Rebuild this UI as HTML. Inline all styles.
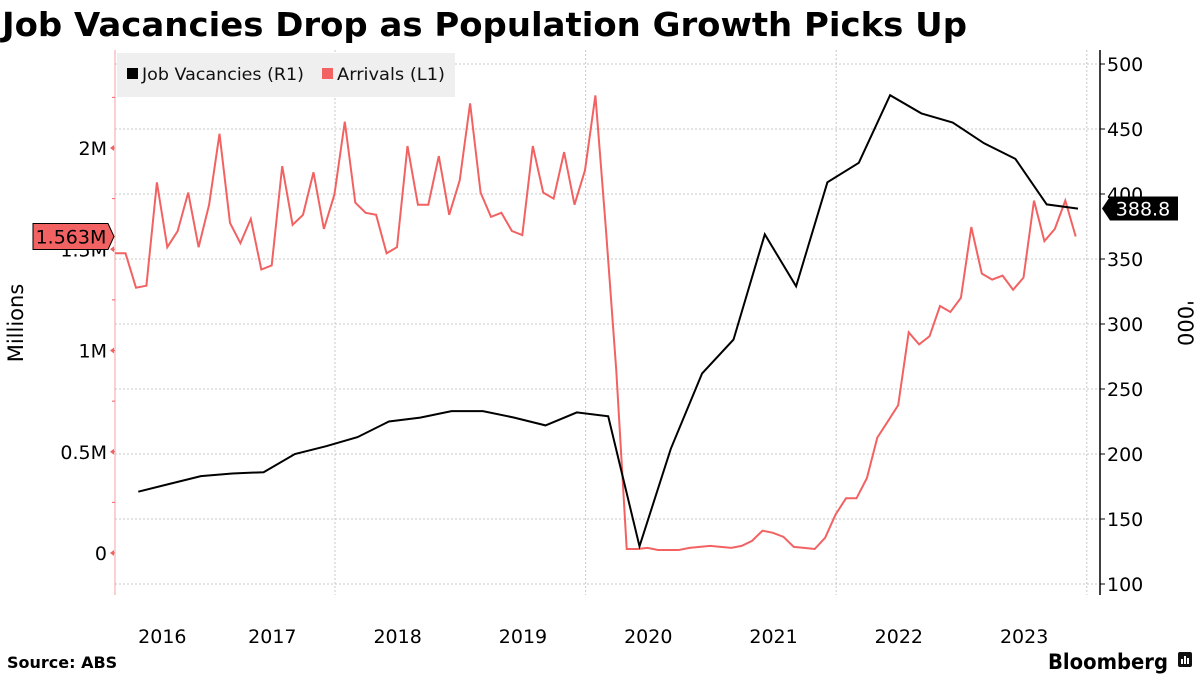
<!DOCTYPE html>
<html><head><meta charset="utf-8"><style>
html,body{margin:0;padding:0;background:#fff;}
svg{display:block;font-family:"DejaVu Sans","Liberation Sans",sans-serif;}
</style></head><body>
<svg id="chart" width="1200" height="675" viewBox="0 0 1200 675">
<text x="2" y="36" font-size="33" font-weight="bold" textLength="965" lengthAdjust="spacingAndGlyphs">Job Vacancies Drop as Population Growth Picks Up</text>
<g id="grid"></g>
<g id="axes"></g>
<g>
<rect x="117" y="53" width="338" height="44" fill="#efefef"/>
<g>
<rect x="127" y="68" width="11" height="11" fill="#000"/>
<text x="142" y="80" font-size="17" fill="#111" textLength="162" lengthAdjust="spacingAndGlyphs">Job Vacancies (R1)</text></g>
<g>
<rect x="322" y="68" width="11" height="11" fill="#f26262"/>
<text x="337" y="80" font-size="17" fill="#111" textLength="108" lengthAdjust="spacingAndGlyphs">Arrivals (L1)</text></g>
</g>
<g id="series"></g>
<text transform="translate(23,323) rotate(-90)" text-anchor="middle" font-size="21">Millions</text>
<text transform="translate(1178,323) rotate(90)" text-anchor="middle" font-size="21">'000</text>
<text x="7" y="668" font-size="16" font-weight="bold">Source: ABS</text>
<text x="1048" y="669" font-size="21" font-weight="bold" textLength="120" lengthAdjust="spacingAndGlyphs">Bloomberg</text>
<g><rect x="1178" y="652" width="14" height="15" rx="2" fill="#111"/><rect x="1181" y="659" width="2" height="5" fill="#fff"/><rect x="1184" y="656" width="2" height="8" fill="#fff"/><rect x="1187" y="658" width="2" height="6" fill="#fff"/></g>
</svg>
<script>
const yearLabels=["2016","2017","2018","2019","2020","2021","2022","2023"];
const leftTicks=[0,0.5,1,1.5,2];
const leftTickLabels=["0","0.5M","1M","1.5M","2M"];
const rightTicks=[100,150,200,250,300,350,400,450,500];
const arrivalsStart=2016.245;
const arrivals=[1.48,1.48,1.31,1.32,1.83,1.51,1.59,1.78,1.51,1.72,2.07,1.63,1.53,1.65,1.40,1.42,1.91,1.62,1.67,1.88,1.60,1.77,2.13,1.73,1.68,1.67,1.48,1.51,2.01,1.72,1.72,1.96,1.67,1.84,2.22,1.78,1.66,1.68,1.59,1.57,2.01,1.78,1.75,1.98,1.72,1.89,2.26,1.60,0.90,0.02,0.02,0.025,0.015,0.015,0.015,0.025,0.03,0.035,0.03,0.025,0.035,0.06,0.11,0.10,0.08,0.03,0.025,0.02,0.075,0.19,0.27,0.27,0.37,0.57,0.65,0.73,1.09,1.03,1.07,1.22,1.19,1.26,1.61,1.38,1.35,1.37,1.30,1.36,1.74,1.54,1.60,1.74,1.563];
const vacStart=2016.43;
const vacancies=[171,177,183,185,186,200,206,213,225,228,233,233,228,222,232,229,129,204,262,288,369,329,409,424,476,462,455,439,427,392,388.8];
const NS="http://www.w3.org/2000/svg";
const X0=115,X1=1100,YT=50,YB=595;
function xS(t){return 335+(t-2018)*125.3;}
function yL(v){return 553-v*202.5;}
function yR(v){return 64+(500-v)*1.3;}
function mk(tag,attrs,parent){const e=document.createElementNS(NS,tag);for(const k in attrs)e.setAttribute(k,attrs[k]);parent.appendChild(e);return e;}
const grid=document.getElementById('grid'),axes=document.getElementById('axes'),series=document.getElementById('series');
rightTicks.forEach(v=>{const l=mk('line',{x1:X0,x2:X1,y1:yR(v),y2:yR(v),stroke:'#c8c8c8','stroke-dasharray':'2,2'},grid);


const tk=mk('line',{x1:X1,x2:X1+5,y1:yR(v),y2:yR(v),stroke:'#000'},axes);
const t=mk('text',{x:X1+7,y:yR(v)+7,'font-size':19},axes);t.textContent=v;

});
[2018,2020,2022,2024].forEach(y=>{const l=mk('line',{x1:xS(y),x2:xS(y),y1:YT,y2:YB,stroke:'#c8c8c8','stroke-dasharray':'2,2'},grid);

});
mk('line',{x1:X0,x2:X0,y1:YT,y2:YB,stroke:'#f6a0a0'},axes);
mk('line',{x1:X1,x2:X1,y1:YT,y2:YB,stroke:'#000','stroke-width':1.5},axes);
for(let v=0;v<=2.25;v+=0.25){mk('line',{x1:X0-3,x2:X0,y1:yL(v),y2:yL(v),stroke:'#f26262'},axes);}
leftTicks.forEach((v,i)=>{mk('path',{d:`M${X0-5},${yL(v)} l4,-3 v6 z`,fill:'#f26262'},axes);
const t=mk('text',{x:X0-8,y:yL(v)+7,'font-size':19,'text-anchor':'end'},axes);t.textContent=leftTickLabels[i];

});
yearLabels.forEach((s,i)=>{const y=+s;const c=Math.max(xS(y),X0)/2+Math.min(xS(y+1),X1)/2;
const t=mk('text',{x:c,y:643,'font-size':19,'text-anchor':'middle'},axes);t.textContent=s;

});
const pa=mk('polyline',{points:arrivals.map((v,i)=>xS(arrivalsStart+i/12).toFixed(1)+','+yL(v).toFixed(1)).join(' '),fill:'none',stroke:'#f26262','stroke-width':2},series);


const pv=mk('polyline',{points:vacancies.map((v,i)=>xS(vacStart+i/4).toFixed(1)+','+yR(v).toFixed(1)).join(' '),fill:'none',stroke:'#000','stroke-width':2},series);


const la=arrivals[arrivals.length-1],ya=yL(la);
const g1=mk('g',{},series);


mk('path',{d:`M33,${ya-13} H108 L114,${ya} L108,${ya+13} H33 Z`,fill:'#f26262',stroke:'#000'},g1);
const t1=mk('text',{x:71,y:ya+7,'font-size':19,'text-anchor':'middle'},g1);t1.textContent=la.toFixed(3)+'M';
const lv=vacancies[vacancies.length-1],yv=yR(lv);
const g2=mk('g',{},series);


mk('path',{d:`M1102,${yv} L1110,${yv-12} H1178 V${yv+12} H1110 Z`,fill:'#000'},g2);
const t2=mk('text',{x:1143,y:yv+7,'font-size':19,'text-anchor':'middle',fill:'#fff'},g2);t2.textContent=lv.toFixed(1);
</script>
</body></html>
